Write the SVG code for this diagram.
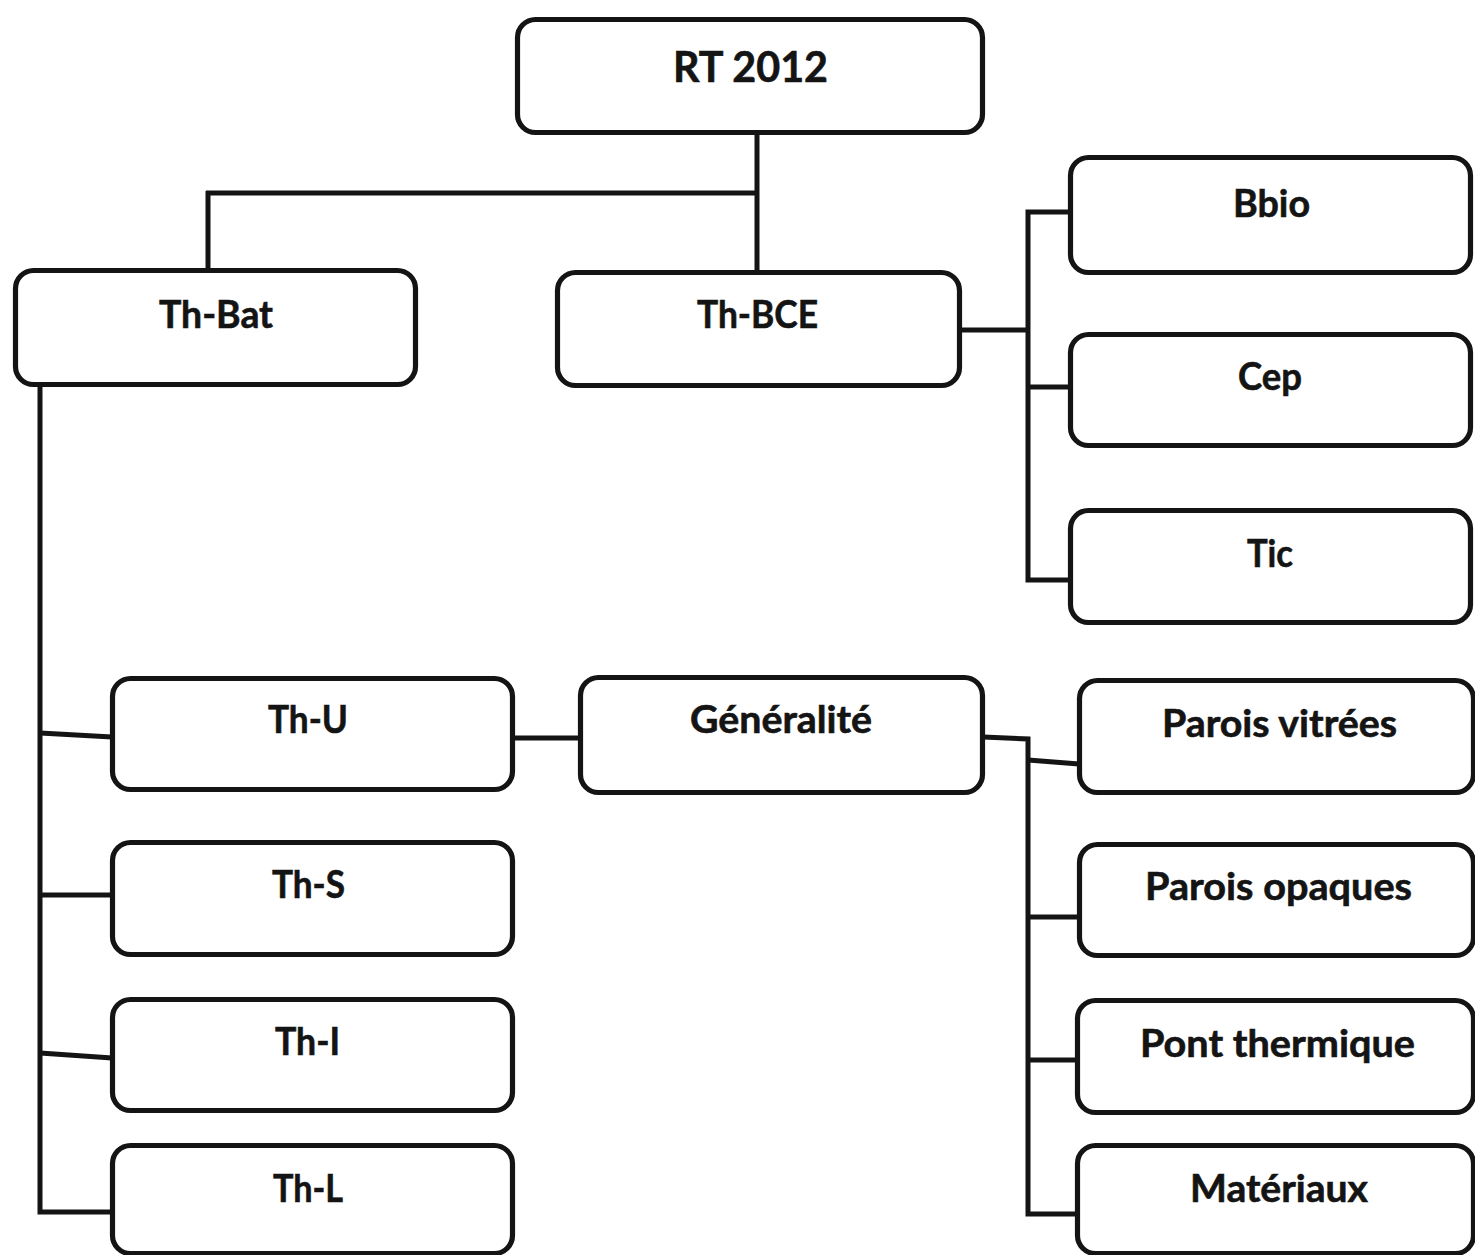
<svg xmlns="http://www.w3.org/2000/svg" width="1475" height="1255" viewBox="0 0 1475 1255">
<style>
.box{fill:#fff;stroke:#141414;stroke-width:5.2}
.lbl{font-family:"Lato","Open Sans","Liberation Sans",sans-serif;font-weight:700;font-size:38px;fill:#141414;stroke:#141414;stroke-width:0.6;text-anchor:middle}
.big{font-size:42px}
.con{fill:none;stroke:#141414;stroke-width:5;stroke-linejoin:miter;stroke-linecap:butt}
</style>
<rect width="1475" height="1255" fill="#fff"/>
<g id="connectors">
<path class="con" d="M757,134 L757,271"/>
<path class="con" d="M206,193 L757,193"/>
<path class="con" d="M208,191 L208,270"/>
<path class="con" d="M960,330 L1028,330"/>
<path class="con" d="M1070,212 L1028,212 L1028,580 L1070,580"/>
<path class="con" d="M1028,387 L1070,387"/>
<path class="con" d="M40,385 L40,1212 L112,1212"/>
<path class="con" d="M40,733 L112,737"/>
<path class="con" d="M40,895 L112,895"/>
<path class="con" d="M40,1053 L112,1058"/>
<path class="con" d="M513,738 L580,738"/>
<path class="con" d="M983,737 L1028,739 L1028,1214 L1079,1214"/>
<path class="con" d="M1028,760 L1079,764"/>
<path class="con" d="M1028,917 L1079,917"/>
<path class="con" d="M1028,1060 L1079,1060"/>
</g>
<g id="n-rt2012"><rect class="box" x="517.5" y="19.5" width="465" height="113" rx="18"/><text class="lbl big" x="750.5" y="82" textLength="155" lengthAdjust="spacingAndGlyphs">RT 2012</text></g>
<g id="n-thbat"><rect class="box" x="15.5" y="270.5" width="400" height="114" rx="18"/><text class="lbl" x="216" y="328" textLength="114" lengthAdjust="spacingAndGlyphs">Th-Bat</text></g>
<g id="n-thbce"><rect class="box" x="557.5" y="272.5" width="402" height="113" rx="18"/><text class="lbl" x="757.5" y="328" textLength="121" lengthAdjust="spacingAndGlyphs">Th-BCE</text></g>
<g id="n-bbio"><rect class="box" x="1070.5" y="157.5" width="400" height="115" rx="18"/><text class="lbl" x="1271.5" y="217" textLength="77" lengthAdjust="spacingAndGlyphs">Bbio</text></g>
<g id="n-cep"><rect class="box" x="1070.5" y="334.5" width="400" height="111" rx="18"/><text class="lbl" x="1270" y="390" textLength="64" lengthAdjust="spacingAndGlyphs">Cep</text></g>
<g id="n-tic"><rect class="box" x="1070.5" y="510.5" width="400" height="112" rx="18"/><text class="lbl" x="1270" y="567" textLength="46" lengthAdjust="spacingAndGlyphs">Tic</text></g>
<g id="n-thu"><rect class="box" x="112.5" y="678.5" width="400" height="111" rx="18"/><text class="lbl" x="308" y="733" textLength="80" lengthAdjust="spacingAndGlyphs">Th-U</text></g>
<g id="n-ths"><rect class="box" x="112.5" y="842.5" width="400" height="112" rx="18"/><text class="lbl" x="308.5" y="898" textLength="73" lengthAdjust="spacingAndGlyphs">Th-S</text></g>
<g id="n-thi"><rect class="box" x="112.5" y="999.5" width="400" height="111" rx="18"/><text class="lbl" x="307.5" y="1055" textLength="65" lengthAdjust="spacingAndGlyphs">Th-I</text></g>
<g id="n-thl"><rect class="box" x="112.5" y="1145.5" width="400" height="108" rx="18"/><text class="lbl" x="308" y="1202" textLength="70" lengthAdjust="spacingAndGlyphs">Th-L</text></g>
<g id="n-generalite"><rect class="box" x="580.5" y="677.5" width="402" height="115" rx="18"/><text class="lbl" x="781" y="733" textLength="182" lengthAdjust="spacingAndGlyphs">Généralité</text></g>
<g id="n-parois-vitrees"><rect class="box" x="1079.5" y="680.5" width="394" height="112" rx="18"/><text class="lbl" x="1279.5" y="737" textLength="235" lengthAdjust="spacingAndGlyphs">Parois vitrées</text></g>
<g id="n-parois-opaques"><rect class="box" x="1079.5" y="844.5" width="394" height="111" rx="18"/><text class="lbl" x="1278.5" y="900" textLength="267" lengthAdjust="spacingAndGlyphs">Parois opaques</text></g>
<g id="n-pont-thermique"><rect class="box" x="1077.5" y="1000.5" width="396" height="112" rx="18"/><text class="lbl" x="1277.5" y="1057" textLength="275" lengthAdjust="spacingAndGlyphs">Pont thermique</text></g>
<g id="n-materiaux"><rect class="box" x="1077.5" y="1145.5" width="396" height="108" rx="18"/><text class="lbl" x="1279" y="1202" textLength="178" lengthAdjust="spacingAndGlyphs">Matériaux</text></g>
</svg>
